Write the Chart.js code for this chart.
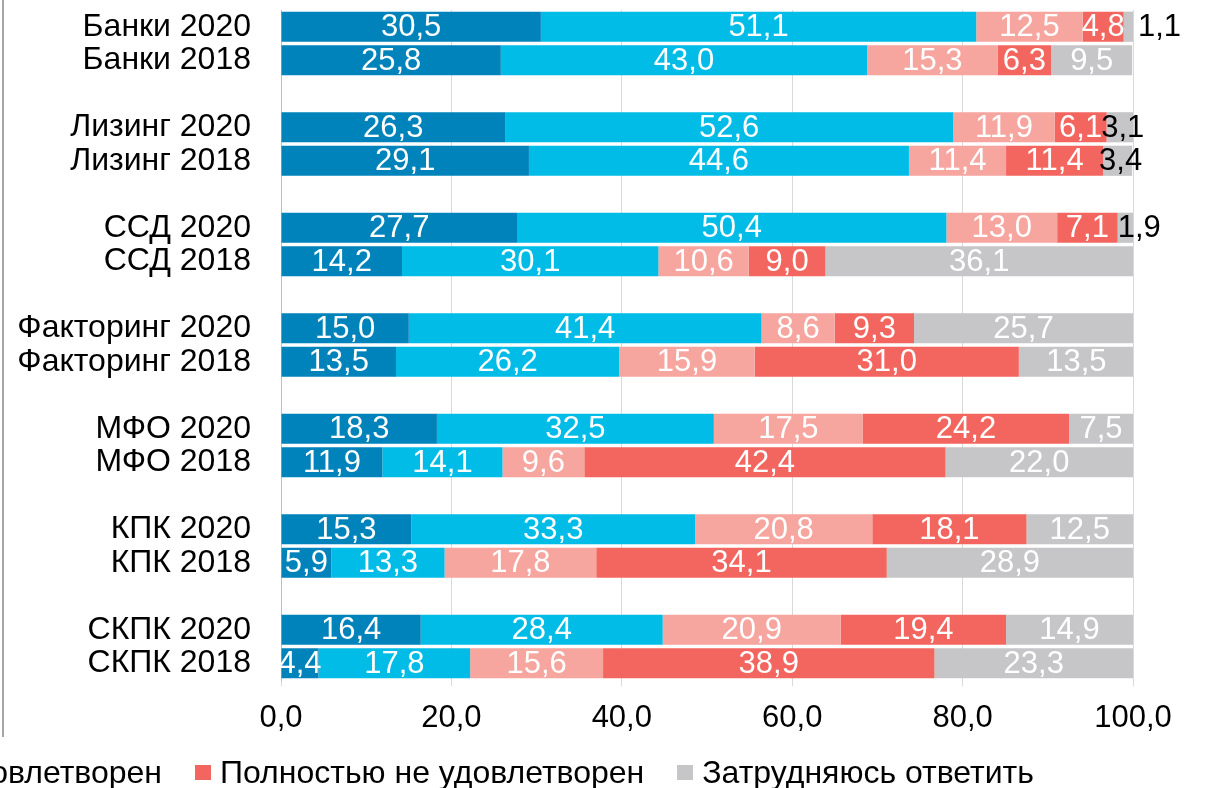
<!DOCTYPE html>
<html lang="ru">
<head>
<meta charset="utf-8">
<script src="https://cdn.jsdelivr.net/npm/chart.js@4/dist/chart.umd.min.js"></script>
<style>
  html, body { margin:0; padding:0; background:#fff; overflow:hidden; }
  #wrap { position:relative; width:1205px; height:788px; overflow:hidden; }
  #frame { position:absolute; left:2px; top:0; width:2px; height:737px; background:#A6A6A6; }
  #legend { position:absolute; top:753px; left:0; display:flex; align-items:center; white-space:nowrap;
            font-family:'Liberation Sans', Arial, sans-serif; font-size:32px; line-height:38px; color:#000; }
  #legend .item { display:flex; align-items:center; margin-right:33px; }
  #legend .box { display:inline-block; width:16px; height:15px; margin-right:9px; }
</style>
</head>
<body>
<div id="wrap">
  <canvas id="c" width="1205" height="788"></canvas>
  <div id="frame"></div>
  <div id="legend"></div>
</div>
<script>
// ---- data ----
const categories = [
  'Банки 2020','Банки 2018','',
  'Лизинг 2020','Лизинг 2018','',
  'ССД 2020','ССД 2018','',
  'Факторинг 2020','Факторинг 2018','',
  'МФО 2020','МФО 2018','',
  'КПК 2020','КПК 2018','',
  'СКПК 2020','СКПК 2018'
];
const seriesNames = [
  'Полностью удовлетворен',
  'Скорее удовлетворен',
  'Скорее не удовлетворен',
  'Полностью не удовлетворен',
  'Затрудняюсь ответить'
];
const fullySatisfied   = [30.5,25.8,null,26.3,29.1,null,27.7,14.2,null,15.0,13.5,null,18.3,11.9,null,15.3,5.9,null,16.4,4.4];
const mostlySatisfied  = [51.1,43.0,null,52.6,44.6,null,50.4,30.1,null,41.4,26.2,null,32.5,14.1,null,33.3,13.3,null,28.4,17.8];
const mostlyNot        = [12.5,15.3,null,11.9,11.4,null,13.0,10.6,null,8.6,15.9,null,17.5,9.6,null,20.8,17.8,null,20.9,15.6];
const fullyNot         = [4.8,6.3,null,6.1,11.4,null,7.1,9.0,null,9.3,31.0,null,24.2,42.4,null,18.1,34.1,null,19.4,38.9];
const hardToSay        = [1.1,9.5,null,3.1,3.4,null,1.9,36.1,null,25.7,13.5,null,7.5,22.0,null,12.5,28.9,null,14.9,23.3];
const xTicks = [0, 20, 40, 60, 80, 100];

const colors = ['#0083BA', '#00BCE6', '#F6A59F', '#F3665F', '#C6C6C8'];
const FONT = "'Liberation Sans', Arial, sans-serif";
const seriesData = [fullySatisfied, mostlySatisfied, mostlyNot, fullyNot, hardToSay];

const fmt = v => v.toFixed(1).replace('.', ',');

const labelPlugin = {
  id: 'barLabels',
  afterDatasetsDraw(chart) {
    const ctx = chart.ctx;
    ctx.save();
    ctx.font = '31px ' + FONT;
    ctx.textBaseline = 'middle';
    chart.data.datasets.forEach((ds, di) => {
      const meta = chart.getDatasetMeta(di);
      meta.data.forEach((el, i) => {
        const v = ds.data[i];
        if (v === null || v === undefined) return;
        const start = Math.min(el.x, el.base), end = Math.max(el.x, el.base);
        let x, align = 'center';
        if (v < 4) {
          ctx.fillStyle = '#000';
          if (v < 1.5) { x = end + 5; align = 'left'; }
          else if (v < 2.5) { x = start; align = 'left'; }
          else { x = (start + end) / 2 + 3; }
        } else {
          ctx.fillStyle = '#fff';
          x = (start + end) / 2;
        }
        ctx.textAlign = align;
        ctx.fillText(fmt(v), x, el.y + 1);
      });
    });
    ctx.restore();
  }
};

const chart = new Chart(document.getElementById('c'), {
  type: 'bar',
  data: {
    labels: categories,
    datasets: seriesData.map((d, k) => ({
      label: seriesNames[k],
      data: d,
      backgroundColor: colors[k],
      borderWidth: 0,
      barPercentage: 0.9,
      categoryPercentage: 1.0
    }))
  },
  options: {
    indexAxis: 'y',
    responsive: false,
    animation: false,
    layout: { padding: { top: 10, right: 72, bottom: 0, left: 0 } },
    plugins: { legend: { display: false }, tooltip: { enabled: false } },
    scales: {
      x: {
        stacked: true,
        min: 0, max: 100,
        afterBuildTicks: s => { s.ticks = xTicks.map(v => ({ value: v })); },
        afterFit: s => { s.height = 108; s.paddingLeft = 0; s.paddingRight = 0; },
        ticks: {
          color: '#000',
          font: { family: FONT, size: 31 },
          padding: 14,
          maxRotation: 0,
          callback: v => fmt(v)
        },
        grid: { color: '#D9D9D9', lineWidth: 1, drawTicks: true, tickLength: 6, tickColor: '#D9D9D9' },
        border: { display: false }
      },
      y: {
        stacked: true,
        afterFit: s => { s.width = 281; s.paddingTop = 0; s.paddingBottom = 0; },
        ticks: {
          color: '#000',
          font: { family: FONT, size: 32 },
          padding: 30,
          autoSkip: false
        },
        grid: { display: false, drawTicks: false },
        border: { display: true, color: '#BFBFBF', width: 1 }
      }
    }
  },
  plugins: [labelPlugin]
});

// HTML legend (left part clipped like in the reference)
const legend = document.getElementById('legend');
chart.data.datasets.forEach(ds => {
  const item = document.createElement('span');
  item.className = 'item';
  const box = document.createElement('span');
  box.className = 'box';
  box.style.background = ds.backgroundColor;
  item.appendChild(box);
  item.appendChild(document.createTextNode(ds.label));
  legend.appendChild(item);
});
const boxes = legend.querySelectorAll('.box');
const target = 195;
const cur = boxes[3].getBoundingClientRect().left;
legend.style.left = (target - cur) + 'px';
</script>
</body>
</html>
